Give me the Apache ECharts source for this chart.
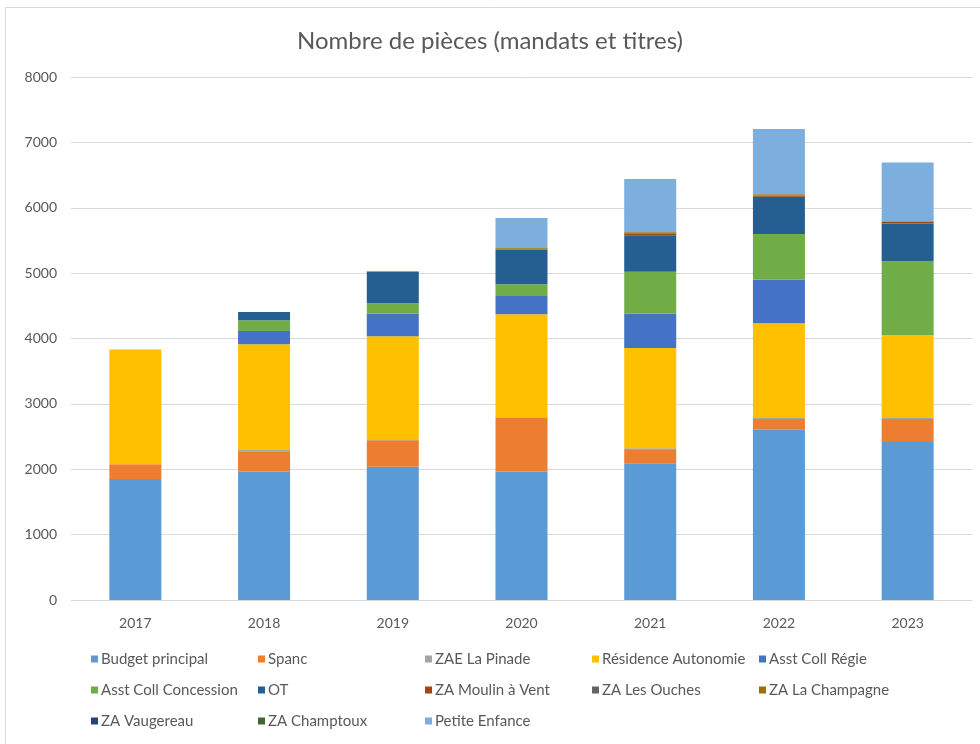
<!DOCTYPE html>
<html>
<head>
<meta charset="utf-8">
<script src="https://cdn.jsdelivr.net/npm/echarts@6/dist/echarts.min.js"></script>
<style>
  html, body { margin: 0; padding: 0; background: #fff; }
  #chart { width: 980px; height: 744px; }
</style>
</head>
<body>
<div id="chart"></div>
<script>
// data
var years = ['2017', '2018', '2019', '2020', '2021', '2022', '2023'];
var budgetPrincipal   = [1850, 1964, 2040, 1964, 2092, 2606, 2417];
var spanc             = [226, 311, 404, 826, 204, 164, 353];
var zaeLaPinade       = [0, 20, 15, 10, 25, 15, 15];
var residenceAutonom  = [1756, 1618, 1576, 1572, 1535, 1449, 1265];
var asstCollRegie     = [0, 203, 347, 279, 526, 663, 0];
var asstCollConcess   = [0, 164, 158, 179, 638, 703, 1130];
var ot                = [0, 127, 480, 526, 560, 568, 580];
var zaMoulinAVent     = [0, 0, 5, 10, 25, 20, 25];
var zaLesOuches       = [0, 0, 0, 5, 15, 5, 10];
var zaLaChampagne     = [0, 0, 5, 15, 10, 15, 0];
var zaVaugereau       = [0, 0, 0, 0, 0, 0, 0];
var zaChamptoux       = [0, 0, 0, 0, 0, 0, 0];
var petiteEnfance     = [0, 0, 0, 456, 808, 996, 899];
var yTicks = [0, 1000, 2000, 3000, 4000, 5000, 6000, 7000, 8000];

var seriesDef = [
  ['Budget principal', budgetPrincipal, '#5b9bd5'],
  ['Spanc', spanc, '#ed7d31'],
  ['ZAE La Pinade', zaeLaPinade, '#a5a5a5'],
  ['Résidence Autonomie', residenceAutonom, '#ffc000'],
  ['Asst Coll Régie', asstCollRegie, '#4472c4'],
  ['Asst Coll Concession', asstCollConcess, '#70ad47'],
  ['OT', ot, '#255e91'],
  ['ZA Moulin à Vent', zaMoulinAVent, '#9e480e'],
  ['ZA Les Ouches', zaLesOuches, '#636363'],
  ['ZA La Champagne', zaLaChampagne, '#997300'],
  ['ZA Vaugereau', zaVaugereau, '#264478'],
  ['ZA Champtoux', zaChamptoux, '#43682b'],
  ['Petite Enfance', petiteEnfance, '#7cafdd']
];

var font = 'Lato, "Open Sans", sans-serif';
var txt = '#595959';

// legend laid out in 5 columns, 3 rows
var colX = [86, 253, 420, 587, 754];
var legends = [];
for (var c = 0; c < 5; c++) {
  var names = [];
  for (var r = 0; r < 3; r++) {
    var idx = r * 5 + c;
    if (idx < seriesDef.length) names.push(seriesDef[idx][0]);
  }
  legends.push({
    orient: 'vertical',
    left: colX[c],
    top: 646,
    itemWidth: 7,
    itemHeight: 7,
    itemGap: 15,
    icon: 'rect',
    selectedMode: false,
    textStyle: { fontFamily: font, fontSize: 15, color: txt, padding: [0, 0, 0, -2], lineHeight: 16 },
    data: names
  });
}

var chart = echarts.init(document.getElementById('chart'));
chart.setOption({
  animation: false,
  title: {
    text: 'Nombre de pièces (mandats et titres)',
    left: 'center',
    top: 24,
    textStyle: { fontFamily: font, fontSize: 24, fontWeight: 'normal', color: txt }
  },
  graphic: [{
    type: 'rect',
    shape: { x: 5.5, y: 7.5, width: 980, height: 740 },
    style: { fill: 'none', stroke: '#d9d9d9', lineWidth: 1 },
    silent: true
  }],
  legend: legends,
  grid: { left: 71, right: 8, top: 77, bottom: 144 },
  xAxis: {
    type: 'category',
    data: years,
    axisTick: { show: false },
    axisLine: { lineStyle: { color: '#d9d9d9', width: 1 } },
    axisLabel: { fontFamily: font, fontSize: 14, color: txt, margin: 16 }
  },
  yAxis: {
    type: 'value',
    min: yTicks[0],
    max: yTicks[yTicks.length - 1],
    interval: 1000,
    axisLine: { show: false },
    axisTick: { show: false },
    axisLabel: {
      fontFamily: font, fontSize: 14, color: txt, margin: 14,
      formatter: function (v) { return String(v); }
    },
    splitLine: { lineStyle: { color: '#d9d9d9', width: 1 } }
  },
  series: seriesDef.map(function (s) {
    return {
      name: s[0],
      type: 'bar',
      stack: 'total',
      barWidth: 52,
      data: s[1],
      itemStyle: { color: s[2] }
    };
  })
});
</script>
</body>
</html>
